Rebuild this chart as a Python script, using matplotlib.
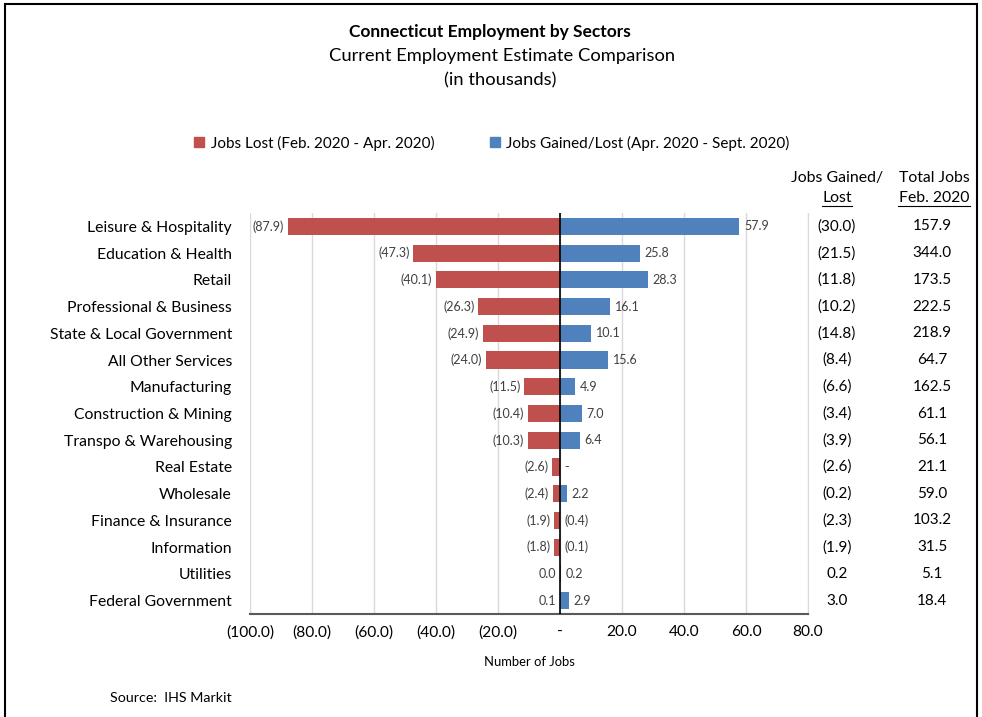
import matplotlib
matplotlib.use("Agg")
import matplotlib.pyplot as plt
import matplotlib.transforms as mtransforms
from matplotlib.patches import Patch, Rectangle
import numpy as np

plt.rcParams['font.family'] = ['Lato', 'DejaVu Sans']

# Data (thousands of jobs)
sectors = ["Leisure & Hospitality", "Education & Health", "Retail",
           "Professional & Business", "State & Local Government",
           "All Other Services", "Manufacturing", "Construction & Mining",
           "Transpo & Warehousing", "Real Estate", "Wholesale",
           "Finance & Insurance", "Information", "Utilities",
           "Federal Government"]
jobs_lost = [-87.9, -47.3, -40.1, -26.3, -24.9, -24.0, -11.5, -10.4,
             -10.3, -2.6, -2.4, -1.9, -1.8, 0.04, 0.1]
jobs_gained = [57.9, 25.8, 28.3, 16.1, 10.1, 15.6, 4.9, 7.0,
               6.4, 0.0, 2.2, -0.4, -0.1, 0.2, 2.9]
net_change = [-30.0, -21.5, -11.8, -10.2, -14.8, -8.4, -6.6, -3.4,
              -3.9, -2.6, -0.2, -2.3, -1.9, 0.2, 3.0]
total_feb = [157.9, 344.0, 173.5, 222.5, 218.9, 64.7, 162.5, 61.1,
             56.1, 21.1, 59.0, 103.2, 31.5, 5.1, 18.4]
x_ticks = [-100, -80, -60, -40, -20, 0, 20, 40, 60, 80]

RED = "#C0504D"
BLUE = "#4F81BD"
W, H = 982, 717


def acct(v):
    # Excel accounting-style number format
    if v == 0:
        return "-"
    if v < 0:
        return "({:.1f})".format(abs(v))
    return "{:.1f}".format(v)


fig = plt.figure(figsize=(W / 100, H / 100), dpi=100)
ax = fig.add_axes([250 / W, 1 - 614 / H, (808 - 250) / W, (614 - 213) / H])

y = np.arange(len(sectors))
ax.barh(y, jobs_lost, height=0.64, color=RED, zorder=3)
ax.barh(y, jobs_gained, height=0.64, color=BLUE, zorder=2)

for i in range(len(sectors)):
    lo = min(jobs_lost[i], 0)
    ax.text(lo - 1.2, i, acct(jobs_lost[i]), ha="right", va="center",
            fontsize=9, color="#404040")
    hi = max(jobs_gained[i], 0)
    ax.text(hi + 1.5, i, acct(jobs_gained[i]), ha="left", va="center",
            fontsize=9, color="#404040")

ax.axvline(0, color="black", lw=1.2, zorder=4)
ax.set_xlim(-100, 80)
ax.set_ylim(len(sectors) - 0.5, -0.5)
ax.set_xticks(x_ticks)
ax.set_xticklabels([acct(t) for t in x_ticks], fontsize=11.2)
ax.set_yticks(y)
ax.set_yticklabels(sectors, fontsize=11.3)
ax.tick_params(axis="both", length=0, pad=8)
ax.tick_params(axis="y", pad=13)
ax.grid(axis="x", color="#D9D9D9", lw=1, zorder=0)
ax.set_axisbelow(True)
for side in ["top", "left"]:
    ax.spines[side].set_visible(False)
ax.spines["bottom"].set_color("#595959")
ax.spines["bottom"].set_linewidth(1.5)
ax.spines["right"].set_color("#D9D9D9")
ax.set_xlabel("Number of Jobs", fontsize=9.4, labelpad=12)

# right-hand table
tr = mtransforms.blended_transform_factory(fig.transFigure, ax.transData)
for i in range(len(sectors)):
    ax.text(837 / W, i, acct(net_change[i]), transform=tr, ha="center",
            va="center", fontsize=11, color="black")
    ax.text(932 / W, i, "{:.1f}".format(total_feb[i]), transform=tr,
            ha="center", va="center", fontsize=11, color="black")

fig.text(837 / W, 1 - 178 / H, "Jobs Gained/", ha="center", va="center", fontsize=11.4)
fig.text(837 / W, 1 - 198 / H, "Lost", ha="center", va="center", fontsize=11.4)
fig.text(934 / W, 1 - 178 / H, "Total Jobs", ha="center", va="center", fontsize=11.3)
fig.text(934 / W, 1 - 198 / H, "Feb. 2020", ha="center", va="center", fontsize=11.3)
fig.add_artist(plt.Line2D([822 / W, 852 / W], [1 - 206 / H] * 2, color="black", lw=0.8))
fig.add_artist(plt.Line2D([898 / W, 970 / W], [1 - 206 / H] * 2, color="black", lw=0.8))

# titles
fig.text(490 / W, 1 - 32 / H, "Connecticut Employment by Sectors", ha="center",
         va="center", fontsize=12.5, fontweight="bold")
fig.text(502 / W, 1 - 56 / H, "Current Employment Estimate Comparison",
         ha="center", va="center", fontsize=13.2)
fig.text(500 / W, 1 - 80 / H, "(in thousands)", ha="center", va="center", fontsize=13.2)

handles = [Patch(color=RED), Patch(color=BLUE)]
fig.legend(handles, ["Jobs Lost (Feb. 2020 - Apr. 2020)",
                     "Jobs Gained/Lost (Apr. 2020 - Sept. 2020)"],
           loc="center", bbox_to_anchor=(492 / W, 1 - 143 / H), ncol=2,
           frameon=False, fontsize=11, handlelength=0.65, handleheight=0.65,
           handletextpad=0.45, columnspacing=3.6)

fig.text(110 / W, 1 - 698 / H, "Source:  IHS Markit", ha="left", va="center", fontsize=10.3)

# outer frame
fig.add_artist(Rectangle((5 / W, -0.1), (977 - 5) / W, 1.1 - 4 / H,
                         transform=fig.transFigure, fill=False,
                         edgecolor="black", lw=1.5))

fig.savefig("out.png", dpi=100)
